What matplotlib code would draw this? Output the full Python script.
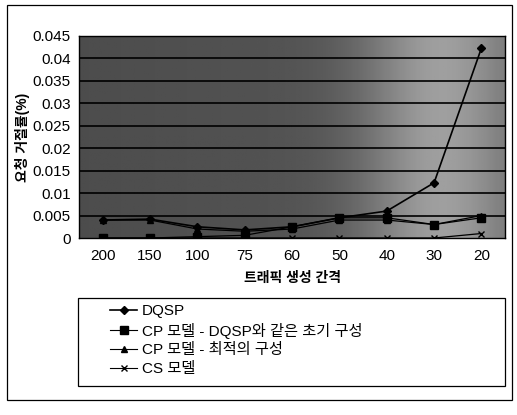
import numpy as np
import matplotlib.pyplot as plt
from matplotlib.patches import Rectangle
from matplotlib.lines import Line2D

plt.rcParams['font.family'] = ['Liberation Sans', 'Noto Sans CJK KR', 'DejaVu Sans']

# 데이터
intervals = ['200', '150', '100', '75', '60', '50', '40', '30', '20']
dqsp = [0.004, 0.0042, 0.0025, 0.0018, 0.0025, 0.0045, 0.006, 0.0123, 0.0423]
cp_same = [0.0, 0.0, 0.0003, 0.0006, 0.0025, 0.0045, 0.0045, 0.003, 0.0045]
cp_opt = [0.004, 0.004, 0.002, 0.0015, 0.002, 0.004, 0.004, 0.003, 0.005]
cs = [0.0, 0.0, 0.0, 0.0, 0.0, 0.0, 0.0, 0.0, 0.001]
labels = ['DQSP', 'CP 모델 - DQSP와 같은 초기 구성', 'CP 모델 - 최적의 구성', 'CS 모델']
yticks = [0, 0.005, 0.01, 0.015, 0.02, 0.025, 0.03, 0.035, 0.04, 0.045]

fig = plt.figure(figsize=(5.17, 4.15), dpi=100)
fig.patch.set_facecolor('white')

# 바깥 테두리
fig.add_artist(Rectangle((0.0135, 0.036), 0.977, 0.952, transform=fig.transFigure,
                         fill=False, edgecolor='black', linewidth=0.9))

ax = fig.add_axes([0.153, 0.4265, 0.824, 0.487])
x = np.arange(len(intervals))

# 배경 (스캔된 회색 음영)
grad = np.linspace(0, 1, 200)
bg = 0.30 + 0.28 * np.exp(-((grad - 0.85) / 0.18) ** 2) + 0.05 * grad
ax.imshow(bg[np.newaxis, :], extent=[-0.5, 8.5, 0, 0.045], aspect='auto',
          cmap='gray', vmin=0, vmax=1, zorder=0)

for yv in yticks[1:]:
    ax.axhline(yv, color='black', linewidth=1.2, zorder=1)

ax.plot(x, dqsp, color='black', marker='D', markersize=4, linewidth=1.2, zorder=5)
ax.plot(x, cp_same, color='black', marker='s', markersize=6, linewidth=0.9, zorder=4)
ax.plot(x, cp_opt, color='black', marker='^', markersize=5, linewidth=0.9, zorder=4)
ax.plot(x, cs, color='black', marker='x', markersize=5, linewidth=0.9, zorder=4)

ax.set_xlim(-0.5, 8.5)
ax.set_ylim(0, 0.045)
ax.set_yticks(yticks)
ax.set_yticklabels(['0', '0.005', '0.01', '0.015', '0.02', '0.025', '0.03', '0.035', '0.04', '0.045'])
ax.set_xticks(x)
ax.set_xticklabels(intervals)
ax.tick_params(axis='both', length=0, labelsize=11, pad=6)
ax.tick_params(axis='x', pad=8)
for s in ax.spines.values():
    s.set_linewidth(1.0)

ax.set_xlabel('트래픽 생성 간격', fontsize=10, fontweight='bold', labelpad=6)
ax.set_ylabel('요청 거절률(%)', fontsize=10, fontweight='bold', labelpad=2)

# 범례
fig.add_artist(Rectangle((0.151, 0.070), 0.826, 0.212, transform=fig.transFigure,
                         fill=False, edgecolor='black', linewidth=0.9))
handles = [
    Line2D([], [], color='black', marker='D', markersize=4, linewidth=1.2),
    Line2D([], [], color='black', marker='s', markersize=6, linewidth=0.8),
    Line2D([], [], color='black', marker='^', markersize=5, linewidth=0.8),
    Line2D([], [], color='black', marker='x', markersize=5, linewidth=0.8),
]
fig.legend(handles, labels, loc='upper left', bbox_to_anchor=(0.186, 0.30),
           frameon=False, fontsize=11, handlelength=1.8, handletextpad=0.3,
           labelspacing=0.3)

fig.savefig('out.png', dpi=100)
